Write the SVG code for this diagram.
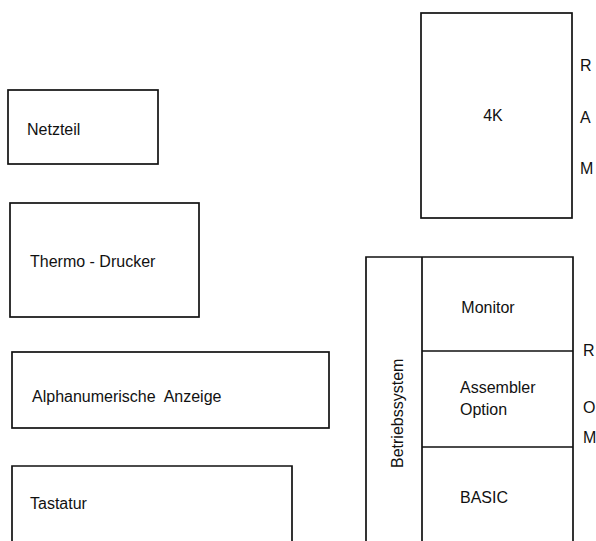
<svg xmlns="http://www.w3.org/2000/svg" width="596" height="541" viewBox="0 0 596 541">
<style>
.b{fill:none;stroke:#111;stroke-width:1.7}
.t{font-family:"Liberation Sans",Arial,sans-serif;font-size:16px;fill:#111}
.m{text-anchor:middle}
</style>
<rect width="596" height="541" fill="#fff"/>
<g id="netzteil">
<rect class="b" x="8" y="90" width="150" height="74"/>
<text class="t" x="27" y="135">Netzteil</text>
</g>
<g id="thermo">
<rect class="b" x="10" y="203" width="189" height="114"/>
<text class="t" x="30" y="267">Thermo - Drucker</text>
</g>
<g id="anzeige">
<rect class="b" x="12" y="352" width="317" height="76"/>
<text class="t" x="32" y="402" xml:space="preserve" style="white-space:pre">Alphanumerische  Anzeige</text>
</g>
<g id="tastatur">
<path class="b" d="M12,545 V466 H292 V545"/>
<text class="t" x="30" y="509">Tastatur</text>
</g>
<g id="ram">
<rect class="b" x="421" y="13" width="151" height="205"/>
<text class="t m" x="493" y="121">4K</text>
<text class="t" x="580" y="71">R</text>
<text class="t" x="580" y="123">A</text>
<text class="t" x="580" y="174">M</text>
</g>
<g id="rom">
<path class="b" d="M366,545 V257 H573 V545 M422,257 V545 M422,351 H573 M422,447 H573"/>
<text class="t" transform="translate(403,468) rotate(-90)">Betriebssystem</text>
<text class="t m" x="488" y="313">Monitor</text>
<text class="t" x="460" y="393">Assembler</text>
<text class="t" x="460" y="415">Option</text>
<text class="t" x="460" y="503">BASIC</text>
<text class="t" x="583" y="356">R</text>
<text class="t" x="583" y="413">O</text>
<text class="t" x="583" y="443">M</text>
</g>
</svg>
